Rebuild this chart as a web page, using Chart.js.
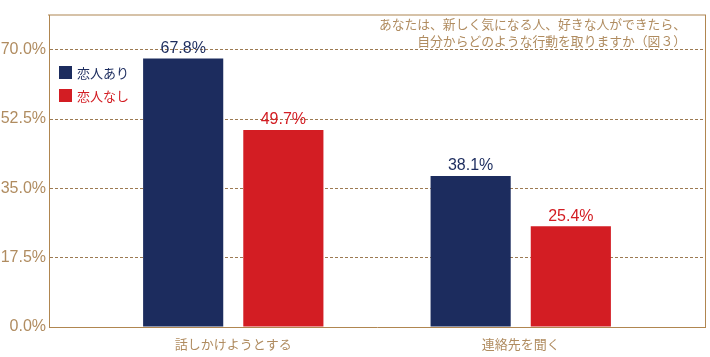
<!DOCTYPE html>
<html>
<head>
<meta charset="utf-8">
<script src="https://cdn.jsdelivr.net/npm/chart.js@4/dist/chart.umd.min.js"></script>
<style>
html,body{margin:0;padding:0;background:#fff;}
#wrap{position:relative;width:710px;height:357px;}
</style>
</head>
<body>
<div id="wrap"><canvas id="c" width="710" height="357"></canvas></div>
<script>
const categories = ['話しかけようとする', '連絡先を聞く'];
const seriesNames = ['恋人あり', '恋人なし'];
const withPartner = [67.8, 38.1];
const withoutPartner = [49.7, 25.4];
const yTicks = [0, 17.5, 35, 52.5, 70];
const titleLines = ['あなたは、新しく気になる人、好きな人ができたら、', '自分からどのような行動を取りますか（図３）'];

const NAVY = '#1c2c5e';
const RED = '#d31d23';
const TAN = '#b08c60';
const GRID = '#9c7a52';
const BORDER = '#b08650';
const TOPBORDER = '#d6c2a8';
const FONT = "'Liberation Sans', Arial, sans-serif";
const JFONT = "'Noto Sans CJK JP', sans-serif";

const toPts = arr => arr.map((v, i) => ({x: i, y: v}));

const overlay = {
  id: 'overlay',
  afterDatasetsDraw(chart) {
    const ctx = chart.ctx;
    ctx.save();
    chart.data.datasets.forEach((ds, di) => {
      const meta = chart.getDatasetMeta(di);
      meta.data.forEach((el, i) => {
        ctx.fillStyle = ds.backgroundColor;
        ctx.font = '16px ' + FONT;
        ctx.textAlign = 'center';
        ctx.textBaseline = 'bottom';
        ctx.fillText(ds.data[i].y.toFixed(1) + '%', el.x, el.y - 2);
      });
    });
    const ca = chart.chartArea;
    chart.data.datasets.forEach((ds, di) => {
      const top = ca.top + 51 + di * 23;
      ctx.fillStyle = ds.backgroundColor;
      ctx.fillRect(ca.left + 10, top, 13, 13);
      ctx.font = '13px ' + JFONT;
      ctx.textAlign = 'left';
      ctx.textBaseline = 'middle';
      ctx.fillText(ds.label, ca.left + 28, top + 7);
    });
    ctx.fillStyle = TAN;
    ctx.font = '12.8px ' + JFONT;
    ctx.textAlign = 'right';
    ctx.textBaseline = 'middle';
    titleLines.forEach((t, i) => ctx.fillText(t, 686, 24 + i * 17.5));
    ctx.restore();
  }
};

new Chart(document.getElementById('c'), {
  type: 'bar',
  data: {
    datasets: [
      {label: seriesNames[0], data: toPts(withPartner), backgroundColor: NAVY, categoryPercentage: 0.697, barPercentage: 0.8},
      {label: seriesNames[1], data: toPts(withoutPartner), backgroundColor: RED, categoryPercentage: 0.697, barPercentage: 0.8}
    ]
  },
  options: {
    responsive: false,
    animation: false,
    layout: {padding: {left: 0, top: 15, right: 5, bottom: 0}},
    plugins: {legend: {display: false}, tooltip: {enabled: false}},
    scales: {
      x: {
        type: 'linear',
        offset: false,
        min: -0.641, max: 1.641,
        afterBuildTicks(s) { s.ticks = categories.map((c, i) => ({value: i})); },
        afterFit(s) { s.height = 30; },
        grid: {display: false, drawTicks: false, offset: false},
        border: {color: BORDER, width: 1},
        ticks: {
          callback: (v) => categories[v] ?? '',
          color: TAN, font: {family: JFONT, size: 13}, padding: 9, autoSkip: false, maxRotation: 0
        }
      },
      xTop: {
        type: 'linear', position: 'top', offset: false, min: -0.641, max: 1.641,
        afterFit(s) { s.height = 0; },
        grid: {display: false, drawTicks: false},
        border: {color: TOPBORDER, width: 2},
        ticks: {display: false}
      },
      y: {
        min: 0, max: 78.75,
        afterBuildTicks(s) { s.ticks = yTicks.map(v => ({value: v})); },
        afterFit(s) { s.width = 49; },
        grid: {
          color: (c) => c.tick && c.tick.value === 0 ? 'rgba(0,0,0,0)' : GRID,
          drawTicks: false, lineWidth: 1
        },
        border: {color: BORDER, width: 1, dash: [3, 2]},
        ticks: {
          callback: (v) => v.toFixed(1) + '%',
          color: TAN, font: {family: FONT, size: 16}, padding: 3
        }
      },
      yRight: {
        position: 'right', min: 0, max: 78.75,
        afterFit(s) { s.width = 0; },
        grid: {display: false, drawTicks: false},
        border: {color: BORDER, width: 1},
        ticks: {display: false}
      }
    }
  },
  plugins: [overlay]
});
</script>
</body>
</html>
